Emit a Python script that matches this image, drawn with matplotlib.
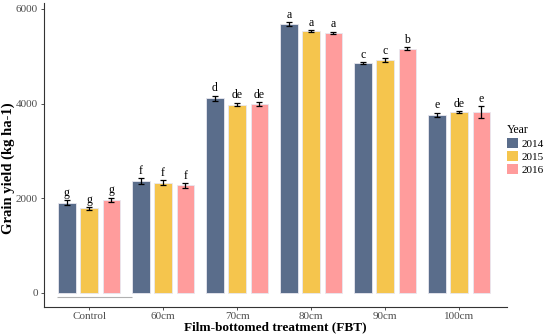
import matplotlib
matplotlib.use("Agg")
import matplotlib.pyplot as plt
import numpy as np

plt.rcParams["font.family"] = ["Liberation Serif", "DejaVu Serif"]

# ── Data ──────────────────────────────────────────────────────────────────────
treatments = ["Control", "60cm", "70cm", "80cm", "90cm", "100cm"]
years = ["2014", "2015", "2016"]

y2014 = [1910, 2365, 4110, 5680, 4860, 3760]
y2015 = [1785, 2330, 3980, 5530, 4920, 3820]
y2016 = [1965, 2270, 3990, 5490, 5160, 3820]

e2014 = [45, 60, 60, 40, 20, 50]
e2015 = [35, 60, 40, 20, 40, 20]
e2016 = [50, 50, 50, 30, 30, 130]

l2014 = ["g", "f", "d", "a", "c", "e"]
l2015 = ["g", "f", "de", "a", "c", "de"]
l2016 = ["g", "f", "de", "a", "b", "e"]

colors = ["#5a6d8b", "#f5c54d", "#ff9c9c"]

# ── Plot ──────────────────────────────────────────────────────────────────────
fig = plt.figure(figsize=(5.5, 3.34), dpi=100)
ax = fig.add_axes([0.08, 0.081, 0.842, 0.91])

x = np.arange(len(treatments))
off = 0.30
w = 0.235

series = [(y2014, e2014, l2014), (y2015, e2015, l2015), (y2016, e2016, l2016)]
for i, (vals, errs, labs) in enumerate(series):
    xs = x + (i - 1) * off
    ax.bar(xs, vals, width=w, color=colors[i], edgecolor="#e8e8f0",
           linewidth=0.6, label=years[i], zorder=2)
    ax.errorbar(xs, vals, yerr=errs, fmt="none", ecolor="black",
                elinewidth=0.9, capsize=2.2, capthick=0.9, zorder=3)
    for xi, v, e, t in zip(xs, vals, errs, labs):
        ax.text(xi, v + e + 25, t, ha="center", va="bottom", fontsize=8.5,
                color="black", zorder=4)

# stray grey line under Control group
ax.plot([-0.43, 0.58], [-85, -85], color="#b0b0b0", linewidth=0.8,
        solid_capstyle="butt", zorder=1)

ax.set_xlim(-0.61, 5.65)
ax.set_ylim(-296, 6125)
ax.set_yticks([0, 2000, 4000, 6000])
ax.set_xticks(x)
ax.set_xticklabels(treatments)
ax.tick_params(axis="both", labelsize=8, labelcolor="#4d4d4d",
               length=2.5, width=0.6, color="#333333", pad=2)
ax.tick_params(axis="x", pad=1)

for s in ["top", "right"]:
    ax.spines[s].set_visible(False)
for s in ["left", "bottom"]:
    ax.spines[s].set_linewidth(0.8)
    ax.spines[s].set_color("#333333")

ax.set_ylabel("Grain yield (kg ha-1)", fontsize=10.5, fontweight="bold")
ax.yaxis.set_label_coords(-0.062, 0.455)
ax.set_xlabel("Film-bottomed treatment (FBT)", fontsize=9.5, fontweight="bold",
              labelpad=0)

leg = fig.legend(title="Year", loc="upper left",
                 bbox_to_anchor=(507 / 550, 1 - 124 / 334),
                 frameon=False, fontsize=8, title_fontsize=8.5,
                 handlelength=0.95, handleheight=1.0, handletextpad=0.35,
                 labelspacing=0.2, borderpad=0, borderaxespad=0)
leg._legend_box.align = "left"
for p in leg.get_patches():
    p.set_edgecolor("none")

fig.savefig("out.png", dpi=100)
